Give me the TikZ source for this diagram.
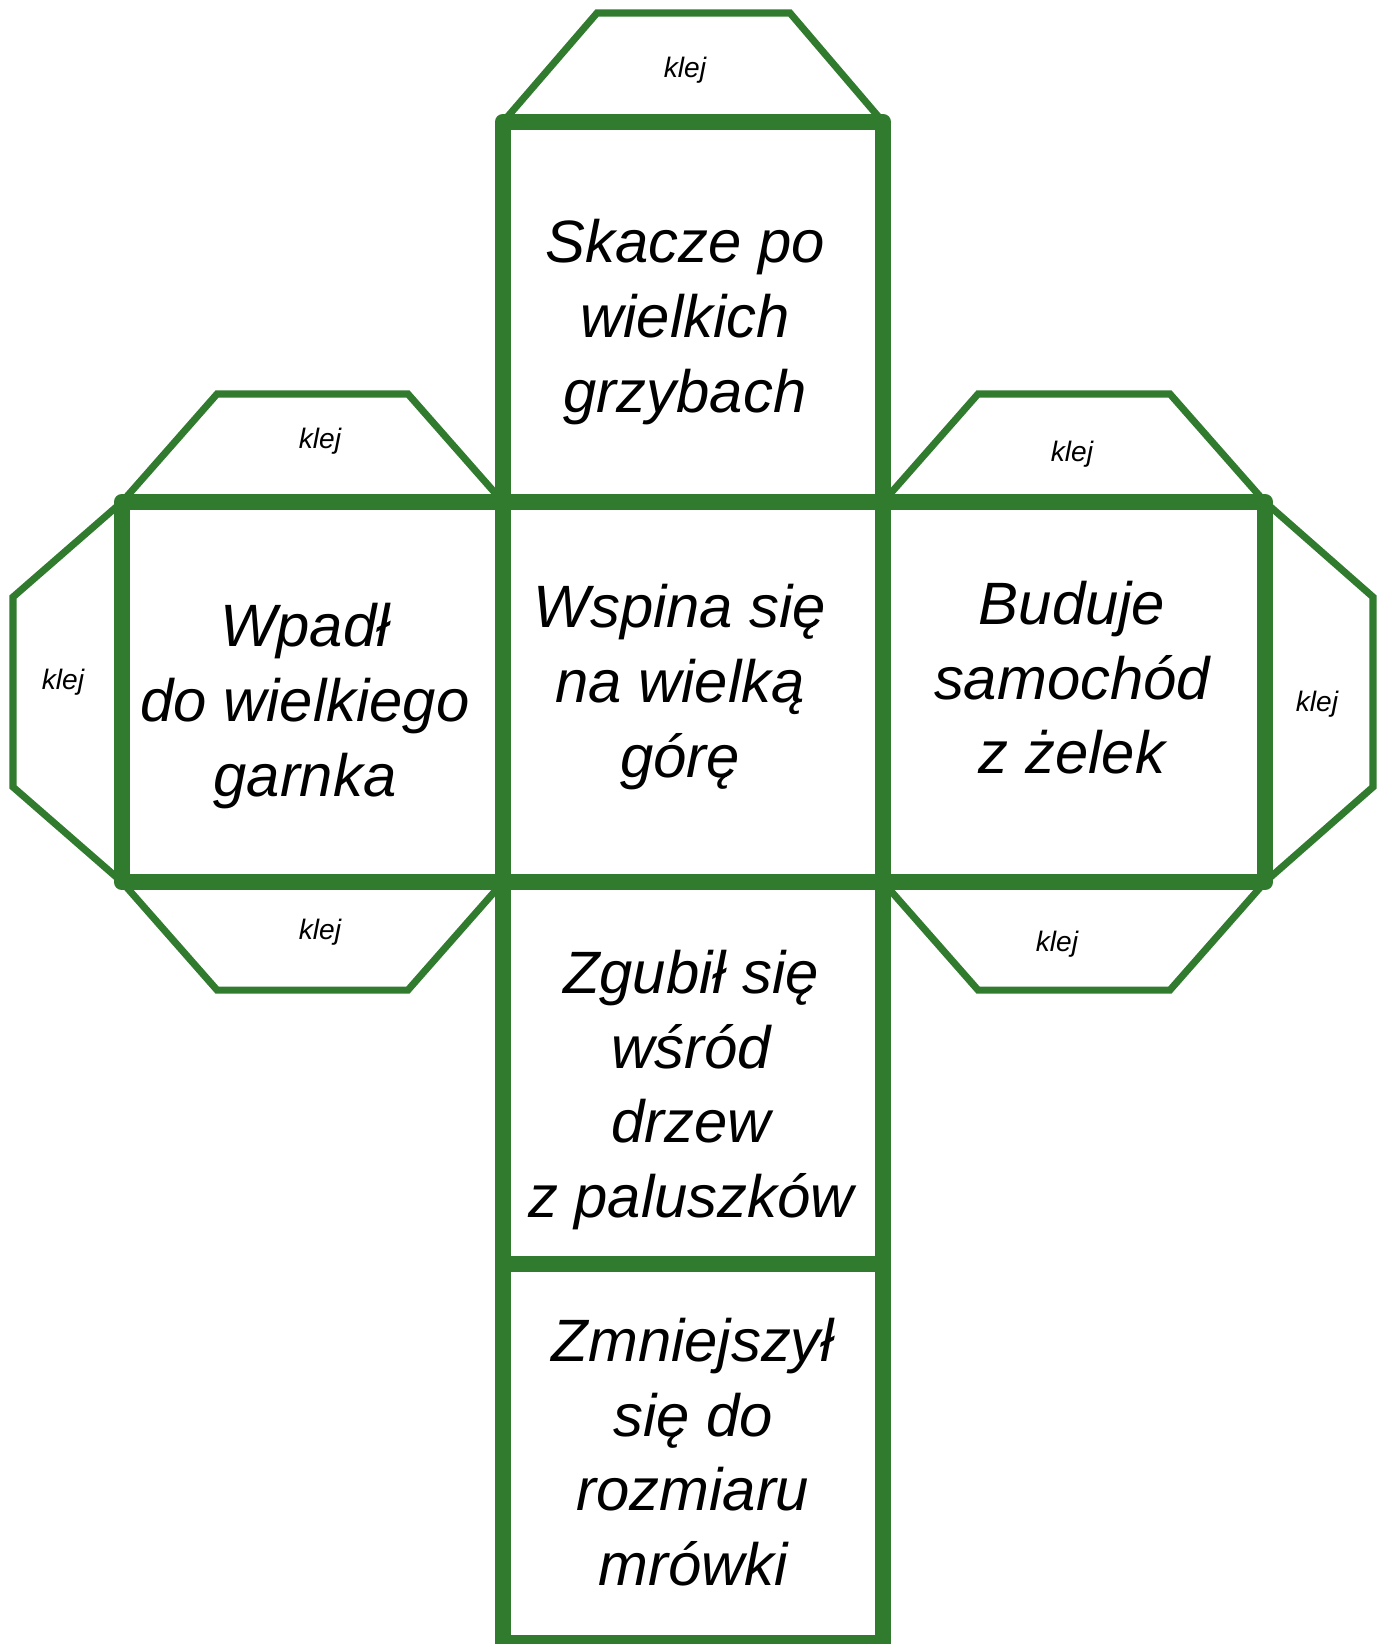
\documentclass[tikz,border=0pt]{standalone}
\usepackage{fontspec}
\setmainfont{Liberation Sans}
\usetikzlibrary{positioning}

\definecolor{kostka}{RGB}{49,123,46}

\tikzset{
  face/.style={draw=kostka, line width=4.8pt, line join=round},
  flap/.style={draw=kostka, line width=2pt},
  napis/.style={font=\fontsize{17}{21.2}\selectfont\itshape, align=center},
  klejtxt/.style={font=\fontsize{8}{9.6}\selectfont\itshape}
}

\begin{document}
\begin{tikzpicture}[x=0.01cm,y=-0.01cm]
\useasboundingbox (0,0) rectangle (1380,1644);

% zakladki
\draw[flap] (503,122) -- (597,13) -- (790,13) -- (883,122);
\draw[flap] (122,502) -- (217,394) -- (408,394) -- (503,502);
\draw[flap] (883,502) -- (978,394) -- (1170,394) -- (1265,502);
\draw[flap] (122,882) -- (217,990) -- (408,990) -- (503,882);
\draw[flap] (883,882) -- (978,990) -- (1170,990) -- (1265,882);
\draw[flap] (122,502) -- (13,597) -- (13,787) -- (122,882);
\draw[flap] (1265,502) -- (1373,597) -- (1373,787) -- (1265,882);

% sciany kostki
\draw[face] (503,122) rectangle (883,502);
\draw[face] (122,502) rectangle (503,882);
\draw[face] (503,502) rectangle (883,882);
\draw[face] (883,502) rectangle (1265,882);
\draw[face] (503,882) rectangle (883,1264);
\draw[face] (503,1264) rectangle (883,1643);

\node[klejtxt] (k1) at (685,70) {klej};
\node[klejtxt] (k2) at (320,441) {klej};
\node[klejtxt] (k3) at (1072,454) {klej};
\node[klejtxt] (k4) at (63,682) {klej};
\node[klejtxt] (k5) at (1317,704) {klej};
\node[klejtxt] (k6) at (320,932) {klej};
\node[klejtxt] (k7) at (1057,944) {klej};

\node[napis] (gora) at (685,322) {Skacze po\\wielkich\\grzybach};
\node[napis] (lewa) at (305,706) {Wpadł\\do wielkiego\\garnka};
\node[napis] (srodek) at (680,687) {Wspina się\\na wielką\\górę};
\node[napis] (prawa) at (1072,678) {Buduje\\samochód\\z żelek};
\node[napis] (dol) at (691,1090) {Zgubił się\\wśród\\drzew\\z paluszków};
\node[napis] (spod) at (693,1452) {Zmniejszył\\się do\\rozmiaru\\mrówki};

\end{tikzpicture}
\end{document}
